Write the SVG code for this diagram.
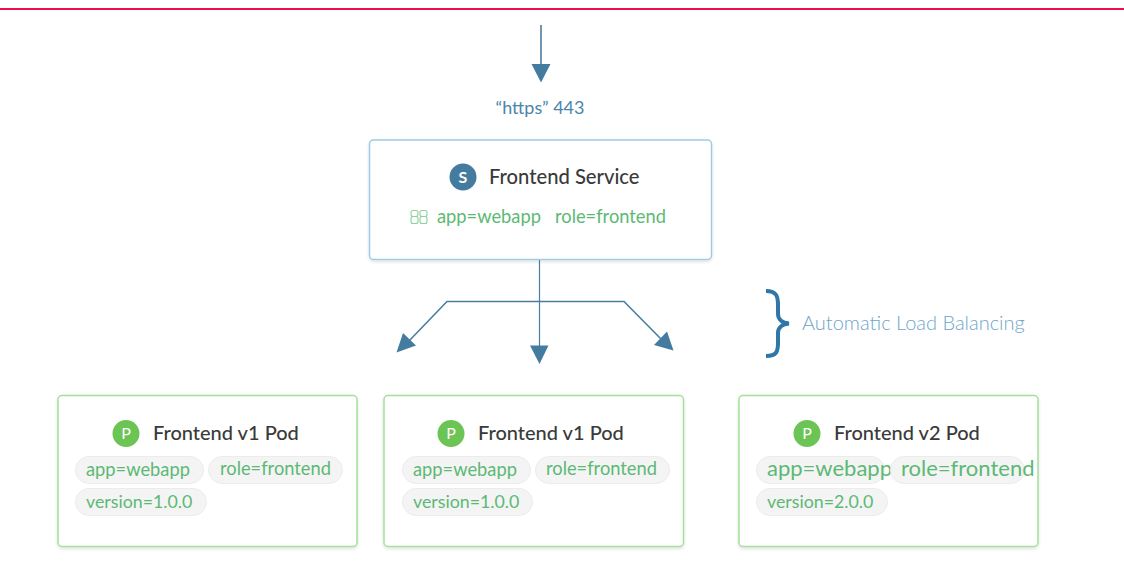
<svg xmlns="http://www.w3.org/2000/svg" width="1124" height="583" viewBox="0 0 1124 583">
<style>
text{font-family:"Lato","Open Sans","Liberation Sans",sans-serif}
.card{fill:#fff;stroke-width:1.5}
.svc{stroke:#9fcbe8}
.pod{stroke:#a4e09a}
.t{font-size:20.200px;fill:#3a3a3a;font-weight:500}
.tp{font-size:20px;fill:#3a3a3a;font-weight:500}
.g{font-size:18.300px;fill:#5cb974}
.v{font-size:17.800px;fill:#5cb974}
.big{font-size:22px}
.pill{fill:#f4f4f4;stroke:#ececec}
.ic{font-size:16px;fill:#fff;text-anchor:middle}
.c{fill:none;stroke:#4a7ea1;stroke-width:1.6}
.thin{stroke-width:1.200}
.h{fill:#447ca0}
</style>
<defs>
<filter id="sh" x="-5%" y="-5%" width="110%" height="112%"><feDropShadow dx="0" dy="1.5" stdDeviation="1.5" flood-color="#000" flood-opacity="0.13"/></filter>
</defs>
<rect width="1124" height="583" fill="#fff"/>
<line x1="0" y1="9" x2="1124" y2="9" stroke="#ee0f48" stroke-width="2"/>
<g id="connectors">
<path class="c" d="M541 25V66"/>
<polygon class="h" points="531.500,64 550.500,64 541,82.500"/>
<path class="c thin" d="M539.500 260V348"/>
<polygon class="h" points="530,345.500 548.500,345.500 539.500,364"/>
<path class="c" d="M408 342L447 301.500H624L662 340"/>
<polygon class="h" points="396.500,352.500 403,333 416,345.500"/>
<polygon class="h" points="673.500,350.500 667,331.500 654,345"/>
</g>
<g id="https-label"><text x="540" y="114" font-size="18px" fill="#4a86ab" text-anchor="middle">“https” 443</text></g>
<g id="frontend-service">
<rect class="card svc" x="369.500" y="140" width="342" height="119.500" rx="4" filter="url(#sh)"/>
<circle cx="463" cy="177" r="13.500" fill="#447ca0"/>
<text class="ic" x="463" y="182.500" font-weight="700">S</text>
<text class="t" x="489" y="184">Frontend Service</text>
<g fill="none" stroke="#8fd09c" stroke-width="1.100"><rect x="411" y="210.500" width="7" height="6" rx="2"/><rect x="411" y="216.500" width="7" height="7" rx="2"/><rect x="420" y="210.500" width="7" height="6" rx="2"/><rect x="420" y="216.500" width="7" height="7" rx="2"/></g>
<text class="g" x="437" y="222.500">app=webapp</text>
<text class="g" x="555" y="222.500">role=frontend</text>
</g>
<g id="pod-1">
<rect class="card pod" x="58" y="395.500" width="299" height="151" rx="4" filter="url(#sh)"/>
<circle cx="126" cy="433.500" r="13.500" fill="#6cc455"/>
<text class="ic" x="126" y="439">P</text>
<text class="tp" x="153" y="440">Frontend v1 Pod</text>
<rect class="pill" x="75.500" y="456.500" width="128" height="27" rx="13.500"/>
<text class="g" x="86" y="475.500">app=webapp</text>
<rect class="pill" x="208.500" y="456.500" width="134" height="27" rx="13.500"/>
<text class="g" x="220" y="475">role=frontend</text>
<rect class="pill" x="75.500" y="488.500" width="131" height="27" rx="13.500"/>
<text class="v" x="86" y="508">version=1.0.0</text>
</g>
<g id="pod-2">
<rect class="card pod" x="384" y="395.500" width="299.500" height="151" rx="4" filter="url(#sh)"/>
<circle cx="451" cy="433.500" r="13.500" fill="#6cc455"/>
<text class="ic" x="451" y="439">P</text>
<text class="tp" x="478" y="440">Frontend v1 Pod</text>
<rect class="pill" x="402.500" y="456.500" width="128" height="27" rx="13.500"/>
<text class="g" x="413" y="475.500">app=webapp</text>
<rect class="pill" x="535.500" y="456.500" width="134" height="27" rx="13.500"/>
<text class="g" x="546" y="475">role=frontend</text>
<rect class="pill" x="402.500" y="488.500" width="130" height="27" rx="13.500"/>
<text class="v" x="413" y="508">version=1.0.0</text>
</g>
<g id="pod-3">
<rect class="card pod" x="739" y="395.500" width="299" height="151" rx="4" filter="url(#sh)"/>
<circle cx="807" cy="433.500" r="13.500" fill="#6cc455"/>
<text class="ic" x="807" y="439">P</text>
<text class="tp" x="834" y="440">Frontend v2 Pod</text>
<rect class="pill" x="756.500" y="456.500" width="128" height="27" rx="13.500"/>
<text class="g big" x="767" y="476">app=webapp</text>
<rect class="pill" x="890.500" y="456.500" width="134" height="27" rx="13.500"/>
<text class="g big" x="901" y="476">role=frontend</text>
<rect class="pill" x="756.500" y="488.500" width="131" height="27" rx="13.500"/>
<text class="v" x="767" y="508">version=2.0.0</text>
</g>
<g id="load-balancing">
<path d="M766 291C777 291 778 297 778 305V314C778 319 782 323 789 323.500C782 324 778 328 778 333V343C778 351 777 356 766 356" fill="none" stroke="#2f77a8" stroke-width="4"/>
<text x="802" y="330" font-size="20px" font-weight="300" fill="#6fa5ca">Automatic Load Balancing</text>
</g>
</svg>
